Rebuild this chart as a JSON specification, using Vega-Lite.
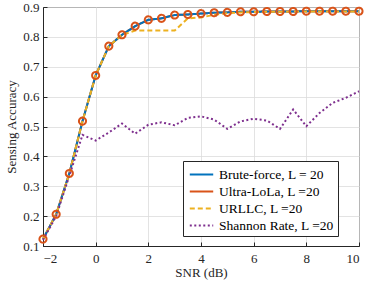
{
  "$schema": "https://vega.github.io/schema/vega-lite/v6.json",
  "width": 316,
  "height": 239,
  "autosize": {"type": "none"},
  "padding": {"left": 43, "top": 7, "right": 15, "bottom": 37},
  "background": "white",
  "config": {
    "view": {"stroke": "#262626", "strokeWidth": 1},
    "font": "Liberation Serif",
    "axis": {
      "labelFont": "Liberation Serif",
      "labelFontSize": 13,
      "labelColor": "#262626",
      "titleFont": "Liberation Serif",
      "titleFontSize": 13,
      "titleFontWeight": "normal",
      "titleColor": "#262626",
      "domainColor": "#262626",
      "tickColor": "#262626",
      "tickSize": -4,
      "gridColor": "#dcdcdc",
      "gridWidth": 0.8
    },
    "legend": {
      "labelFont": "Liberation Serif",
      "labelFontSize": 13.5,
      "labelColor": "#000000"
    }
  },
  "data": {"values": [
    {"snr": -2, "method": "Brute-force, L = 20", "acc": 0.123},
    {"snr": -1.5, "method": "Brute-force, L = 20", "acc": 0.206},
    {"snr": -1, "method": "Brute-force, L = 20", "acc": 0.343},
    {"snr": -0.5, "method": "Brute-force, L = 20", "acc": 0.518},
    {"snr": 0, "method": "Brute-force, L = 20", "acc": 0.671},
    {"snr": 0.5, "method": "Brute-force, L = 20", "acc": 0.769},
    {"snr": 1, "method": "Brute-force, L = 20", "acc": 0.807},
    {"snr": 1.5, "method": "Brute-force, L = 20", "acc": 0.836},
    {"snr": 2, "method": "Brute-force, L = 20", "acc": 0.857},
    {"snr": 2.5, "method": "Brute-force, L = 20", "acc": 0.862},
    {"snr": 3, "method": "Brute-force, L = 20", "acc": 0.873},
    {"snr": 3.5, "method": "Brute-force, L = 20", "acc": 0.875},
    {"snr": 4, "method": "Brute-force, L = 20", "acc": 0.878},
    {"snr": 4.5, "method": "Brute-force, L = 20", "acc": 0.881},
    {"snr": 5, "method": "Brute-force, L = 20", "acc": 0.882},
    {"snr": 5.5, "method": "Brute-force, L = 20", "acc": 0.884},
    {"snr": 6, "method": "Brute-force, L = 20", "acc": 0.884},
    {"snr": 6.5, "method": "Brute-force, L = 20", "acc": 0.885},
    {"snr": 7, "method": "Brute-force, L = 20", "acc": 0.885},
    {"snr": 7.5, "method": "Brute-force, L = 20", "acc": 0.885},
    {"snr": 8, "method": "Brute-force, L = 20", "acc": 0.886},
    {"snr": 8.5, "method": "Brute-force, L = 20", "acc": 0.886},
    {"snr": 9, "method": "Brute-force, L = 20", "acc": 0.886},
    {"snr": 9.5, "method": "Brute-force, L = 20", "acc": 0.886},
    {"snr": 10, "method": "Brute-force, L = 20", "acc": 0.886},
    {"snr": -2, "method": "Ultra-LoLa, L =20", "acc": 0.123},
    {"snr": -1.5, "method": "Ultra-LoLa, L =20", "acc": 0.206},
    {"snr": -1, "method": "Ultra-LoLa, L =20", "acc": 0.343},
    {"snr": -0.5, "method": "Ultra-LoLa, L =20", "acc": 0.518},
    {"snr": 0, "method": "Ultra-LoLa, L =20", "acc": 0.671},
    {"snr": 0.5, "method": "Ultra-LoLa, L =20", "acc": 0.769},
    {"snr": 1, "method": "Ultra-LoLa, L =20", "acc": 0.807},
    {"snr": 1.5, "method": "Ultra-LoLa, L =20", "acc": 0.836},
    {"snr": 2, "method": "Ultra-LoLa, L =20", "acc": 0.857},
    {"snr": 2.5, "method": "Ultra-LoLa, L =20", "acc": 0.862},
    {"snr": 3, "method": "Ultra-LoLa, L =20", "acc": 0.873},
    {"snr": 3.5, "method": "Ultra-LoLa, L =20", "acc": 0.875},
    {"snr": 4, "method": "Ultra-LoLa, L =20", "acc": 0.878},
    {"snr": 4.5, "method": "Ultra-LoLa, L =20", "acc": 0.881},
    {"snr": 5, "method": "Ultra-LoLa, L =20", "acc": 0.882},
    {"snr": 5.5, "method": "Ultra-LoLa, L =20", "acc": 0.884},
    {"snr": 6, "method": "Ultra-LoLa, L =20", "acc": 0.884},
    {"snr": 6.5, "method": "Ultra-LoLa, L =20", "acc": 0.885},
    {"snr": 7, "method": "Ultra-LoLa, L =20", "acc": 0.885},
    {"snr": 7.5, "method": "Ultra-LoLa, L =20", "acc": 0.885},
    {"snr": 8, "method": "Ultra-LoLa, L =20", "acc": 0.886},
    {"snr": 8.5, "method": "Ultra-LoLa, L =20", "acc": 0.886},
    {"snr": 9, "method": "Ultra-LoLa, L =20", "acc": 0.886},
    {"snr": 9.5, "method": "Ultra-LoLa, L =20", "acc": 0.886},
    {"snr": 10, "method": "Ultra-LoLa, L =20", "acc": 0.886},
    {"snr": -2, "method": "URLLC, L =20", "acc": 0.123},
    {"snr": -1.5, "method": "URLLC, L =20", "acc": 0.206},
    {"snr": -1, "method": "URLLC, L =20", "acc": 0.343},
    {"snr": -0.5, "method": "URLLC, L =20", "acc": 0.518},
    {"snr": 0, "method": "URLLC, L =20", "acc": 0.671},
    {"snr": 0.5, "method": "URLLC, L =20", "acc": 0.769},
    {"snr": 1, "method": "URLLC, L =20", "acc": 0.807},
    {"snr": 1.5, "method": "URLLC, L =20", "acc": 0.821},
    {"snr": 2, "method": "URLLC, L =20", "acc": 0.821},
    {"snr": 2.5, "method": "URLLC, L =20", "acc": 0.821},
    {"snr": 3, "method": "URLLC, L =20", "acc": 0.821},
    {"snr": 3.5, "method": "URLLC, L =20", "acc": 0.862},
    {"snr": 4, "method": "URLLC, L =20", "acc": 0.865},
    {"snr": 4.5, "method": "URLLC, L =20", "acc": 0.874},
    {"snr": 5, "method": "URLLC, L =20", "acc": 0.879},
    {"snr": 5.5, "method": "URLLC, L =20", "acc": 0.882},
    {"snr": 6, "method": "URLLC, L =20", "acc": 0.883},
    {"snr": 6.5, "method": "URLLC, L =20", "acc": 0.884},
    {"snr": 7, "method": "URLLC, L =20", "acc": 0.884},
    {"snr": 7.5, "method": "URLLC, L =20", "acc": 0.885},
    {"snr": 8, "method": "URLLC, L =20", "acc": 0.885},
    {"snr": 8.5, "method": "URLLC, L =20", "acc": 0.885},
    {"snr": 9, "method": "URLLC, L =20", "acc": 0.885},
    {"snr": 9.5, "method": "URLLC, L =20", "acc": 0.885},
    {"snr": 10, "method": "URLLC, L =20", "acc": 0.885},
    {"snr": -2, "method": "Shannon Rate, L =20", "acc": 0.12},
    {"snr": -1.5, "method": "Shannon Rate, L =20", "acc": 0.2},
    {"snr": -1, "method": "Shannon Rate, L =20", "acc": 0.335},
    {"snr": -0.5, "method": "Shannon Rate, L =20", "acc": 0.472},
    {"snr": 0, "method": "Shannon Rate, L =20", "acc": 0.453},
    {"snr": 0.5, "method": "Shannon Rate, L =20", "acc": 0.48},
    {"snr": 1, "method": "Shannon Rate, L =20", "acc": 0.51},
    {"snr": 1.5, "method": "Shannon Rate, L =20", "acc": 0.476},
    {"snr": 2, "method": "Shannon Rate, L =20", "acc": 0.506},
    {"snr": 2.5, "method": "Shannon Rate, L =20", "acc": 0.514},
    {"snr": 3, "method": "Shannon Rate, L =20", "acc": 0.504},
    {"snr": 3.5, "method": "Shannon Rate, L =20", "acc": 0.529},
    {"snr": 4, "method": "Shannon Rate, L =20", "acc": 0.534},
    {"snr": 4.5, "method": "Shannon Rate, L =20", "acc": 0.523},
    {"snr": 5, "method": "Shannon Rate, L =20", "acc": 0.492},
    {"snr": 5.5, "method": "Shannon Rate, L =20", "acc": 0.517},
    {"snr": 6, "method": "Shannon Rate, L =20", "acc": 0.526},
    {"snr": 6.5, "method": "Shannon Rate, L =20", "acc": 0.52},
    {"snr": 7, "method": "Shannon Rate, L =20", "acc": 0.492},
    {"snr": 7.5, "method": "Shannon Rate, L =20", "acc": 0.557},
    {"snr": 8, "method": "Shannon Rate, L =20", "acc": 0.501},
    {"snr": 8.5, "method": "Shannon Rate, L =20", "acc": 0.545},
    {"snr": 9, "method": "Shannon Rate, L =20", "acc": 0.579},
    {"snr": 9.5, "method": "Shannon Rate, L =20", "acc": 0.596},
    {"snr": 10, "method": "Shannon Rate, L =20", "acc": 0.618}
  ]},
  "encoding": {
    "x": {
      "field": "snr", "type": "quantitative",
      "scale": {"domain": [-2, 10], "nice": false, "zero": false},
      "axis": {"title": "SNR (dB)", "values": [-2, 0, 2, 4, 6, 8, 10], "format": "d", "labelPadding": 10, "titlePadding": 1}
    },
    "y": {
      "field": "acc", "type": "quantitative",
      "scale": {"domain": [0.1, 0.9], "nice": false, "zero": false},
      "axis": {"title": "Sensing Accuracy", "values": [0.1, 0.2, 0.3, 0.4, 0.5, 0.6, 0.7, 0.8, 0.9], "format": ".1f", "labelPadding": 8, "titlePadding": 4}
    },
    "color": {
      "field": "method", "type": "nominal",
      "scale": {
        "domain": ["Brute-force, L = 20", "Ultra-LoLa, L =20", "URLLC, L =20", "Shannon Rate, L =20"],
        "range": ["#0072BD", "#D95319", "#EDB120", "#7E2F8E"]
      },
      "legend": {
        "title": null,
        "orient": "none",
        "legendX": 140,
        "legendY": 154,
        "symbolType": "M-1.4,0H1.4",
        "symbolSize": 280,
        "symbolStrokeWidth": 2,
        "symbolOffset": 5,
        "strokeColor": "#262626",
        "fillColor": "white",
        "padding": 4,
        "rowPadding": 1,
        "labelOffset": 8,
        "cornerRadius": 0
      }
    },
    "strokeDash": {
      "field": "method", "type": "nominal",
      "scale": {
        "domain": ["Brute-force, L = 20", "Ultra-LoLa, L =20", "URLLC, L =20", "Shannon Rate, L =20"],
        "range": [[1, 0], [1, 0], [5, 3], [2, 2.5]]
      },
      "legend": null
    }
  },
  "layer": [
    {
      "transform": [{"filter": "datum.method === 'Ultra-LoLa, L =20'"}],
      "mark": {"type": "line", "strokeWidth": 2}
    },
    {
      "transform": [{"filter": "datum.method === 'Brute-force, L = 20'"}],
      "mark": {"type": "line", "strokeWidth": 2}
    },
    {
      "transform": [{"filter": "datum.method === 'URLLC, L =20'"}],
      "mark": {"type": "line", "strokeWidth": 2}
    },
    {
      "transform": [{"filter": "datum.method === 'Shannon Rate, L =20'"}],
      "mark": {"type": "line", "strokeWidth": 2}
    },
    {
      "transform": [{"filter": "datum.method === 'Ultra-LoLa, L =20'"}],
      "mark": {"type": "point", "shape": "circle", "size": 50, "strokeWidth": 2, "color": "#D95319", "filled": false, "opacity": 1},
      "encoding": {"color": {"value": "#D95319"}, "strokeDash": {"value": [1, 0]}}
    }
  ]
}
